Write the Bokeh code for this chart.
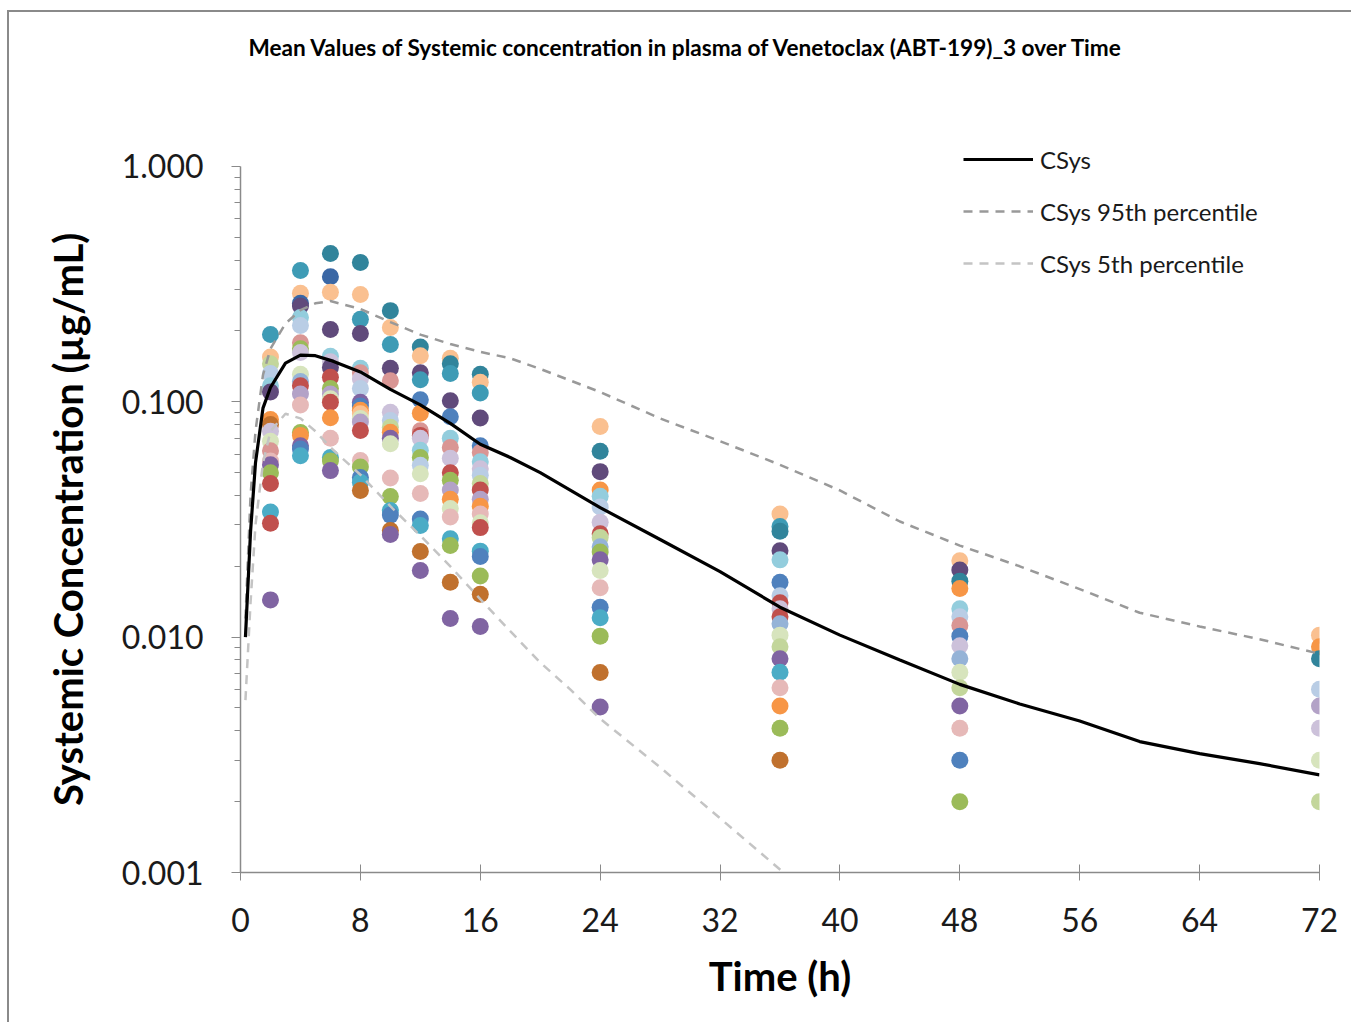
from bokeh.plotting import figure
from bokeh.models import (FixedTicker, PrintfTickFormatter, Label, Legend, LegendItem,
                          Range1d, ColumnDataSource)
from bokeh.embed import file_html
from bokeh.resources import INLINE

# ---------------- data ----------------
title_text = "Mean Values of Systemic concentration in plasma of Venetoclax (ABT-199)_3 over Time"
x_label = "Time (h)"
y_label = "Systemic Concentration (\u00b5g/mL)"
x_ticks = [0, 8, 16, 24, 32, 40, 48, 56, 64, 72]
y_ticks = [0.001, 0.01, 0.1, 1.0]
y_minor_mant = [2, 3, 4, 5, 6, 7, 8, 9]

palette = {
    "dteal": "#31849B", "teal": "#3E9BB5", "tealblue": "#4BACC6", "lblue": "#93CDDD",
    "blue": "#4F81BD", "dblue": "#3A67A5", "peri": "#B9CDE5", "peri2": "#95B3D7",
    "lorange": "#FAC090", "orange": "#F79646", "brown": "#C0712E",
    "dpurple": "#604A7B", "purple": "#8064A2", "lavender": "#CCC1DA", "lav2": "#B3A2C7",
    "green": "#9BBB59", "lgreen": "#C3D69B", "vlgreen": "#D7E4BD",
    "red": "#C0504D", "pink": "#D99694", "lpink": "#E6B9B8",
}

obs_t2 = [0.193, 0.155, 0.145, 0.132, 0.117, 0.110, 0.084, 0.080, 0.075, 0.068, 0.062, 0.056, 0.054, 0.050, 0.045, 0.034, 0.0305, 0.0144]
col_t2 = ["teal", "lorange", "lgreen", "peri", "lblue", "dpurple", "orange", "brown", "lavender", "vlgreen", "pink", "lpink", "purple", "green", "red", "tealblue", "red", "purple"]

obs_t4 = [0.361, 0.289, 0.262, 0.255, 0.228, 0.211, 0.178, 0.168, 0.162, 0.131, 0.122, 0.117, 0.108, 0.097, 0.074, 0.072, 0.065, 0.063, 0.059]
col_t4 = ["teal", "lorange", "dblue", "dpurple", "lblue", "peri", "pink", "green", "lavender", "vlgreen", "peri2", "red", "lav2", "lpink", "green", "orange", "purple", "blue", "tealblue"]

obs_t6 = [0.427, 0.340, 0.292, 0.203, 0.156, 0.148, 0.140, 0.127, 0.114, 0.108, 0.103, 0.0995, 0.0855, 0.070, 0.058, 0.056, 0.051]
col_t6 = ["dteal", "dblue", "lorange", "dpurple", "lblue", "lavender", "dpurple", "red", "green", "lav2", "vlgreen", "red", "orange", "lpink", "tealblue", "green", "purple"]

obs_t8 = [0.391, 0.286, 0.224, 0.195, 0.139, 0.133, 0.125, 0.114, 0.0995, 0.096, 0.092, 0.089, 0.085, 0.082, 0.0755, 0.0563, 0.0528, 0.0477, 0.0455, 0.042]
col_t8 = ["dteal", "lorange", "teal", "dpurple", "lblue", "pink", "lavender", "peri", "purple", "blue", "orange", "lorange", "vlgreen", "lav2", "red", "lpink", "green", "blue", "tealblue", "brown"]

obs_t10 = [0.244, 0.207, 0.175, 0.139, 0.123, 0.0903, 0.0832, 0.078, 0.0742, 0.070, 0.0664, 0.0474, 0.0396, 0.0345, 0.033, 0.0284, 0.0273]
col_t10 = ["dteal", "lorange", "teal", "dpurple", "pink", "lavender", "peri", "lgreen", "orange", "purple", "vlgreen", "lpink", "green", "tealblue", "blue", "brown", "purple"]

obs_t12 = [0.171, 0.157, 0.133, 0.124, 0.102, 0.0894, 0.0754, 0.072, 0.070, 0.0623, 0.058, 0.0537, 0.0495, 0.0408, 0.0318, 0.0298, 0.0231, 0.0192]
col_t12 = ["dteal", "lorange", "dpurple", "teal", "blue", "orange", "pink", "red", "lavender", "lblue", "green", "peri", "vlgreen", "lpink", "blue", "tealblue", "brown", "purple"]

obs_t14 = [0.153, 0.145, 0.132, 0.101, 0.0863, 0.070, 0.064, 0.0575, 0.050, 0.0464, 0.0422, 0.0385, 0.0352, 0.0324, 0.0262, 0.0245, 0.0171, 0.0120]
col_t14 = ["lorange", "dteal", "teal", "dpurple", "blue", "lblue", "pink", "lavender", "red", "green", "lav2", "orange", "vlgreen", "lpink", "tealblue", "green", "brown", "purple"]

obs_t16 = [0.131, 0.121, 0.109, 0.0853, 0.065, 0.0609, 0.0556, 0.052, 0.0487, 0.045, 0.0422, 0.0385, 0.036, 0.0334, 0.0306, 0.0292, 0.0232, 0.022, 0.0182, 0.0152, 0.0111]
col_t16 = ["dteal", "lorange", "teal", "dpurple", "blue", "pink", "lblue", "lavender", "peri", "lgreen", "red", "lav2", "orange", "lpink", "vlgreen", "red", "tealblue", "blue", "green", "brown", "purple"]

obs_t24 = [0.0785, 0.0616, 0.0505, 0.0422, 0.0397, 0.0357, 0.0308, 0.0275, 0.0265, 0.0242, 0.023, 0.0213, 0.0192, 0.0162, 0.0134, 0.0121, 0.0101, 0.00707, 0.00505]
col_t24 = ["lorange", "dteal", "dpurple", "orange", "lblue", "peri", "lavender", "red", "lgreen", "peri2", "green", "purple", "vlgreen", "lpink", "blue", "tealblue", "green", "brown", "purple"]

obs_t36 = [0.0334, 0.0295, 0.0282, 0.0233, 0.0213, 0.0171, 0.0150, 0.0140, 0.0132, 0.0122, 0.0114, 0.0102, 0.0091, 0.0081, 0.0071, 0.0061, 0.0051, 0.0041, 0.0030]
col_t36 = ["lorange", "teal", "dteal", "dpurple", "lblue", "blue", "peri", "red", "lavender", "red", "peri2", "vlgreen", "lgreen", "purple", "tealblue", "lpink", "orange", "green", "brown"]

obs_t48 = [0.0211, 0.0193, 0.0173, 0.0161, 0.0132, 0.0122, 0.0112, 0.0101, 0.0092, 0.0081, 0.0071, 0.0061, 0.0051, 0.0041, 0.0030, 0.0020]
col_t48 = ["lorange", "dpurple", "dteal", "orange", "lblue", "peri", "pink", "blue", "lavender", "peri2", "vlgreen", "lgreen", "purple", "lpink", "blue", "green"]

obs_t72 = [0.0102, 0.0091, 0.0081, 0.0060, 0.0051, 0.0041, 0.0030, 0.0020]
col_t72 = ["lorange", "orange", "dteal", "peri", "lav2", "lavender", "vlgreen", "lgreen"]

obs_times = [2, 4, 6, 8, 10, 12, 14, 16, 24, 36, 48, 72]
obs_values = [obs_t2, obs_t4, obs_t6, obs_t8, obs_t10, obs_t12, obs_t14, obs_t16, obs_t24, obs_t36, obs_t48, obs_t72]
obs_colors = [col_t2, col_t4, col_t6, col_t8, col_t10, col_t12, col_t14, col_t16, col_t24, col_t36, col_t48, col_t72]

mean_t = [0.33, 0.67, 1, 1.5, 2, 3, 4, 5, 6, 8, 10, 12, 14, 16, 18, 20, 24, 28, 32, 36, 40, 44, 48, 52, 56, 60, 64, 68, 72]
mean_c = [0.010, 0.028, 0.055, 0.094, 0.115, 0.146, 0.158, 0.157, 0.150, 0.134, 0.113, 0.097, 0.081, 0.066, 0.058, 0.050, 0.0355, 0.026, 0.019, 0.0134, 0.0102, 0.0080, 0.0063, 0.0052, 0.0044, 0.0036, 0.0032, 0.0029, 0.0026]

p95_t = [0.33, 0.67, 1, 1.5, 2, 3, 4, 5, 6, 8, 10, 12, 14, 16, 18, 20, 24, 28, 32, 36, 40, 44, 48, 52, 56, 60, 64, 68, 72]
p95_c = [0.012, 0.040, 0.075, 0.130, 0.168, 0.215, 0.245, 0.262, 0.268, 0.248, 0.218, 0.193, 0.176, 0.163, 0.153, 0.138, 0.110, 0.085, 0.068, 0.054, 0.042, 0.031, 0.0245, 0.020, 0.016, 0.0127, 0.0111, 0.0098, 0.0085]

p5_t = [0.33, 0.67, 1, 1.5, 2, 3, 4, 5, 6, 8, 10, 12, 14, 16, 18, 20, 22, 24, 28, 32, 36, 37]
p5_c = [0.0054, 0.014, 0.030, 0.055, 0.075, 0.089, 0.085, 0.075, 0.064, 0.049, 0.036, 0.027, 0.020, 0.0145, 0.0106, 0.0078, 0.0060, 0.0045, 0.0028, 0.0017, 0.00103, 0.0009]

# ---------------- figure ----------------
FONT = "Lato"
Y_TOP = 4.17  # frame extends above 1.0 to host the title and legend
p = figure(width=1344, height=1012, x_range=Range1d(0, 72), y_range=Range1d(0.001, Y_TOP),
           y_axis_type="log", output_backend="svg", toolbar_location=None,
           min_border_left=231, min_border_right=34, min_border_top=8, min_border_bottom=152)
p.outline_line_color = None
p.xgrid.visible = False
p.ygrid.visible = False
p.background_fill_color = "white"
p.border_fill_color = "white"
p.styles = {"margin-left": "7px", "margin-top": "10px",
            "border-left": "2px solid #8a8a8a", "border-top": "2px solid #8a8a8a"}

# scatter observations
xs, ys, cs = [], [], []
for t, vals, cols in zip(obs_times, obs_values, obs_colors):
    for v, c in zip(vals, cols):
        xs.append(t)
        ys.append(v)
        cs.append(palette[c])
src = ColumnDataSource(dict(x=xs, y=ys, c=cs))
p.scatter("x", "y", source=src, size=17, fill_color="c", line_color=None)

r95 = p.line(p95_t, p95_c, line_color="#999999", line_width=2.5, line_dash="9 7")
r5 = p.line(p5_t, p5_c, line_color="#C4C4C4", line_width=2.5, line_dash="9 7")
rm = p.line(mean_t, mean_c, line_color="black", line_width=3.2)

# axes
ax = p.xaxis[0]
ax.ticker = FixedTicker(ticks=x_ticks, minor_ticks=[])
ax.axis_line_color = "#8a8a8a"
ax.axis_line_width = 1.5
ax.major_tick_line_color = "#8a8a8a"
ax.major_tick_in = 8
ax.major_tick_out = 8
ax.minor_tick_line_color = None
ax.major_label_text_font = FONT
ax.major_label_text_font_size = "32px"
ax.major_label_text_color = "#1a1a1a"
ax.major_label_standoff = 27
ax.axis_label = x_label
ax.axis_label_text_font = FONT
ax.axis_label_text_font_style = "bold"
ax.axis_label_text_font_size = "40px"
ax.axis_label_text_color = "black"
ax.axis_label_standoff = 17

ay = p.yaxis[0]
minor = [m * t for t in y_ticks[:-1] for m in y_minor_mant]
ay.ticker = FixedTicker(ticks=y_ticks, minor_ticks=minor)
ay.formatter = PrintfTickFormatter(format="%.3f")
ay.bounds = (y_ticks[0], y_ticks[-1])
ay.axis_line_color = "#8a8a8a"
ay.axis_line_width = 1.5
ay.major_tick_line_color = "#8a8a8a"
ay.minor_tick_line_color = "#8a8a8a"
ay.major_tick_in = 0
ay.major_tick_out = 9
ay.minor_tick_in = 0
ay.minor_tick_out = 6
ay.major_label_text_font = FONT
ay.major_label_text_font_size = "32px"
ay.major_label_text_color = "#1a1a1a"
ay.major_label_standoff = 28
# trailing no-break spaces keep the label centred on the 0.001-1 span, not the taller frame
ay.axis_label = y_label + "\u00a0" * 15
ay.axis_label_text_font = FONT
ay.axis_label_text_font_style = "bold"
ay.axis_label_text_font_size = "40px"
ay.axis_label_text_color = "black"
ay.axis_label_standoff = 27

# title inside the (extended) frame
title = Label(x=29.76, y=3.2, text=title_text, text_align="center", text_baseline="middle",
              text_font=FONT, text_font_style="bold", text_font_size="22.6px", text_color="black")
p.add_layout(title)

legend = Legend(items=[LegendItem(label="CSys", renderers=[rm]),
                       LegendItem(label="CSys 95th percentile", renderers=[r95]),
                       LegendItem(label="CSys 5th percentile", renderers=[r5])],
                location=(723, 594))
legend.glyph_width = 70
legend.glyph_height = 30
legend.label_height = 30
legend.spacing = 22
legend.padding = 0
legend.margin = 0
legend.label_standoff = 7
legend.border_line_color = None
legend.background_fill_alpha = 0
legend.label_text_font = FONT
legend.label_text_font_size = "24px"
legend.label_text_color = "#1a1a1a"
p.add_layout(legend)

open("out.html", "w").write(file_html(p, INLINE))
